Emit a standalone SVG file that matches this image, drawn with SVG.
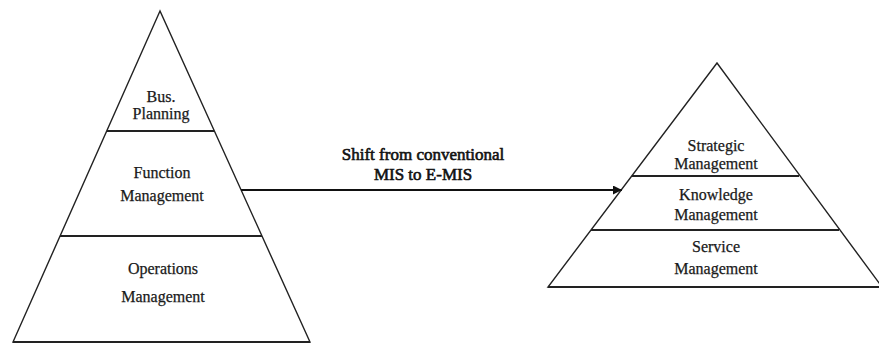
<svg xmlns="http://www.w3.org/2000/svg" width="879" height="344" viewBox="0 0 879 344">
<style>
.edge{fill:none;stroke:#222;stroke-width:1.4}
.band{stroke:#222;stroke-width:2}
.lbl{font-family:"Liberation Serif","Times New Roman",serif;font-size:16px;fill:#1a1a1a;text-anchor:middle;stroke:#1a1a1a;stroke-width:0.25}
.al{font-family:"Liberation Serif","Times New Roman",serif;font-size:17px;fill:#111;text-anchor:middle;stroke:#111;stroke-width:0.6}
</style>
<defs>
<marker id="ah" viewBox="0 0 10 10" refX="10" refY="5" markerWidth="11" markerHeight="9" markerUnits="userSpaceOnUse" orient="auto">
<path d="M0,0 L10,5 L0,10 z" fill="#111"/>
</marker>
</defs>
<rect width="879" height="344" fill="#fff"/>
<g id="left-pyramid">
<path class="edge" d="M160,11 L13,342 L310,342 Z"/>
<line class="band" x1="13" y1="342" x2="310" y2="342"/>
<g id="bus-planning">
<line class="band" x1="107" y1="131" x2="214" y2="131"/>
<text class="lbl" x="161" y="102">Bus.</text>
<text class="lbl" x="161" y="119">Planning</text>
</g>
<g id="function-management">
<line class="band" x1="60" y1="236" x2="262" y2="236"/>
<text class="lbl" x="162" y="178">Function</text>
<text class="lbl" x="162" y="201">Management</text>
</g>
<g id="operations-management">
<text class="lbl" x="163" y="274">Operations</text>
<text class="lbl" x="163" y="302">Management</text>
</g>
</g>
<g id="right-pyramid">
<path class="edge" d="M717,63 L548,287 L882,287 Z"/>
<line class="band" x1="548" y1="287" x2="879" y2="287"/>
<g id="strategic-management">
<line class="band" x1="632" y1="176" x2="799" y2="176"/>
<text class="lbl" x="716" y="151">Strategic</text>
<text class="lbl" x="716" y="169">Management</text>
</g>
<g id="knowledge-management">
<line class="band" x1="591" y1="230" x2="839" y2="230"/>
<text class="lbl" x="716" y="200">Knowledge</text>
<text class="lbl" x="716" y="220">Management</text>
</g>
<g id="service-management">
<text class="lbl" x="716" y="252">Service</text>
<text class="lbl" x="716" y="274">Management</text>
</g>
</g>
<g id="connectors">
<line x1="241" y1="190" x2="622" y2="190" stroke="#111" stroke-width="2" marker-end="url(#ah)"/>
<text class="al" x="423" y="160">Shift from conventional</text>
<text class="al" x="423" y="180">MIS to E-MIS</text>
</g>
</svg>
